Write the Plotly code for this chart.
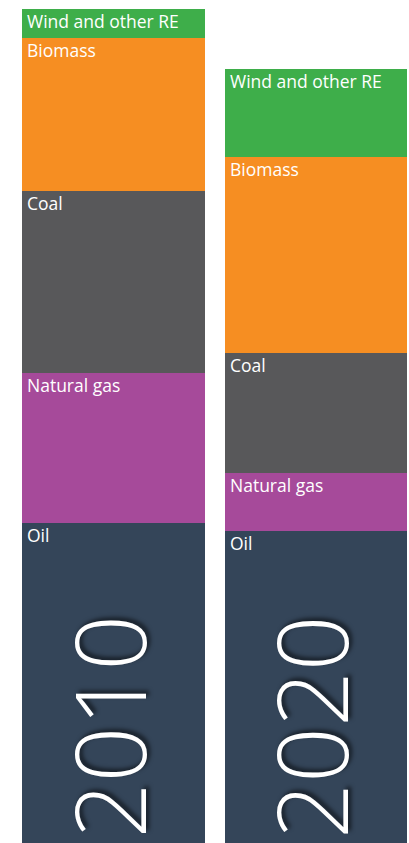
import plotly.graph_objects as go

# Primary energy supply by source (PJ)
years = ["2010", "2020"]
sources = ["Oil", "Natural gas", "Coal", "Biomass", "Wind and other RE"]
values_2010 = [320, 150, 182, 153, 29]
values_2020 = [312, 58, 120, 196, 88]
colors = ["#344559", "#a64a9a", "#58585a", "#f68e22", "#3eae4a"]

series = list(zip(values_2010, values_2020))

fig = go.Figure()
for name, vals, col in zip(sources, series, colors):
    fig.add_trace(go.Bar(
        x=years, y=list(vals), name=name,
        marker=dict(color=col, line=dict(width=0)),
        hoverinfo="skip",
    ))

bargap = 0.099
half_w = (1 - bargap) / 2
label_font = dict(family="Open Sans", size=17.5, color="white")

annotations = []
for i, year in enumerate(years):
    vals = [v[i] for v in series]
    top = 0
    for name, v in zip(sources, vals):
        top += v
        annotations.append(dict(
            x=i - half_w, y=top, xref="x", yref="y",
            text=name, showarrow=False,
            xanchor="left", yanchor="top", xshift=3, yshift=2,
            font=label_font,
        ))
    annotations.append(dict(
        x=i, y=116, xref="x", yref="y",
        text=year, showarrow=False, textangle=-90,
        xanchor="center", yanchor="middle", xshift=-6,
        font=dict(family="Open Sans", size=98, color="white", weight=300,
                  shadow="3px 3px 4px rgba(0,0,0,0.6)"),
    ))

fig.update_layout(
    barmode="stack",
    bargap=bargap,
    width=409, height=843,
    margin=dict(l=0, r=0, t=0, b=0),
    paper_bgcolor="white", plot_bgcolor="white",
    showlegend=False,
    xaxis=dict(range=[-0.5605, 1.4593], visible=False, fixedrange=True),
    yaxis=dict(range=[0, 843], visible=False, fixedrange=True),
    annotations=annotations,
)

fig.write_html("out.html", config={"displayModeBar": False})
